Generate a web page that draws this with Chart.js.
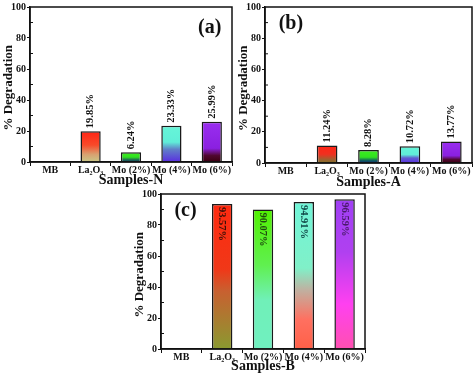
<!DOCTYPE html>
<html>
<head>
<meta charset="utf-8">
<script src="https://cdn.jsdelivr.net/npm/chart.js@4/dist/chart.umd.min.js"></script>
<style>
  body { margin: 0; background: #fff; }
  #wrap { position: relative; width: 474px; height: 375px; overflow: hidden; }
  canvas { position: absolute; }
</style>
</head>
<body>
<div id="wrap">
  <canvas id="chartN" width="236" height="189" style="left:0;top:0"></canvas>
  <canvas id="chartA" width="239" height="191" style="left:235px;top:0"></canvas>
  <canvas id="chartB" width="240" height="188" style="left:131px;top:187px"></canvas>
</div>
<script>
var samples = ['MB', 'La\u2082O\u2083', 'Mo (2%)', 'Mo (4%)', 'Mo (6%)'];
var samplesN = [0, 19.85, 6.24, 23.33, 25.99];
var samplesA = [0, 11.24, 8.28, 10.72, 13.77];
var samplesB = [0, 93.57, 90.07, 94.91, 96.59];
var yTicks = [0, 20, 40, 60, 80, 100];

var serif = "'Liberation Serif', 'Times New Roman', serif";

// gradient stops for each bar, top -> bottom
var gradN = [
  [[0, '#ff2a1a']],
  [[0, '#ff2414'], [0.45, '#f84a2a'], [0.75, '#d8a070'], [1, '#c8c888']],
  [[0, '#3cf01e'], [0.5, '#30e020'], [0.75, '#207050'], [1, '#103868']],
  [[0, '#66f5d8'], [0.45, '#60eed8'], [0.65, '#6080c8'], [1, '#5a2ee0']],
  [[0, '#9a2ef0'], [0.66, '#8a20e0'], [0.84, '#500830'], [1, '#3a0010']]
];
var gradA = [
  [[0, '#ff2a1a']],
  [[0, '#ff2414'], [0.5, '#f03020'], [0.8, '#a06030'], [1, '#807028']],
  [[0, '#3cf01e'], [0.55, '#30e020'], [0.8, '#106060'], [1, '#102870']],
  [[0, '#66f5d8'], [0.5, '#60eed8'], [0.7, '#6060d0'], [1, '#5a2ee0']],
  [[0, '#9a2ef0'], [0.66, '#8a20e0'], [0.84, '#500830'], [1, '#3a0010']]
];
var gradB = [
  [[0, '#ff2a10']],
  [[0, '#ff2a10'], [0.45, '#f03818'], [0.6, '#c86030'], [1, '#8a9a30']],
  [[0, '#50f000'], [0.4, '#60f050'], [0.65, '#70f0b8'], [1, '#70f0c0']],
  [[0, '#70f5d8'], [0.45, '#80f0c8'], [0.6, '#c0b0a0'], [0.8, '#ff7060'], [1, '#ff6048']],
  [[0, '#a040f5'], [0.35, '#b040f0'], [0.7, '#ff40f0'], [1, '#ff50b0']]
];

function gradientFill(stops) {
  return function (c) {
    var chart = c.chart;
    if (!chart.chartArea) return stops[c.dataIndex][0][1];
    var y = chart.scales.y;
    var top = y.getPixelForValue(c.raw || 0);
    var bot = y.getPixelForValue(0);
    if (bot - top < 1) return stops[c.dataIndex][0][1];
    var g = chart.ctx.createLinearGradient(0, top, 0, bot);
    stops[c.dataIndex].forEach(function (s) { g.addColorStop(s[0], s[1]); });
    return g;
  };
}

// box frame, inner minor ticks, panel tag and value labels
var decor = {
  id: 'decor',
  afterDatasetsDraw: function (chart, args, opts) {
    var ctx = chart.ctx, a = chart.chartArea, y = chart.scales.y;
    ctx.save();
    ctx.strokeStyle = '#111';
    ctx.lineWidth = 1.5;
    ctx.strokeRect(a.left, a.top, a.right - a.left, a.bottom - a.top);
    ctx.lineWidth = 1;
    [10, 30, 50, 70, 90].forEach(function (v) {
      var p = y.getPixelForValue(v);
      ctx.beginPath();
      ctx.moveTo(a.left, p);
      ctx.lineTo(a.left + 3, p);
      ctx.stroke();
    });

    ctx.fillStyle = '#111';
    ctx.font = 'bold 20px ' + serif;
    ctx.textAlign = 'center';
    ctx.textBaseline = 'middle';
    ctx.fillText(opts.tag, a.left + opts.tagX * (a.right - a.left), a.top + opts.tagY * (a.bottom - a.top));

    ctx.font = 'bold 10.5px ' + serif;
    var meta = chart.getDatasetMeta(0);
    meta.data.forEach(function (bar, i) {
      var v = chart.data.datasets[0].data[i];
      if (!v) return;
      ctx.save();
      ctx.translate(bar.x, bar.y);
      ctx.textAlign = 'left';
      if (opts.inside) {
        ctx.rotate(Math.PI / 2);
        ctx.fillStyle = opts.labelColors[i];
      } else {
        ctx.rotate(-Math.PI / 2);
        ctx.fillStyle = '#111';
      }
      ctx.fillText(v.toFixed(2) + '%', 3, 0);
      ctx.restore();
    });
    ctx.restore();
  }
};

function makePanel(id, values, grads, xTitle, decorOpts, padRight, xHeight) {
  return new Chart(document.getElementById(id), {
    type: 'bar',
    data: {
      labels: samples,
      datasets: [{
        data: values,
        backgroundColor: gradientFill(grads),
        borderColor: '#1a1a1a',
        borderWidth: function (c) { return c.raw ? 1.5 : 0; },
        barPercentage: 0.5,
        categoryPercentage: 1
      }]
    },
    options: {
      responsive: false,
      animation: false,
      layout: { padding: { top: 6, right: padRight, left: 0, bottom: 0 } },
      plugins: { legend: { display: false }, tooltip: { enabled: false }, decor: decorOpts },
      scales: {
        x: {
          afterFit: function (s) { s.height = xHeight; },
          grid: { drawOnChartArea: false, tickLength: 4, color: '#111', tickColor: '#111' },
          border: { color: '#111', width: 1.5 },
          ticks: { color: '#111', padding: -2, maxRotation: 0, autoSkip: false, font: { family: serif, weight: 'bold', size: 10 } },
          title: { display: true, text: xTitle, color: '#111', padding: 0, font: { family: serif, weight: 'bold', size: 14 } }
        },
        y: {
          min: 0,
          max: 100,
          afterFit: function (s) { s.width = 30; },
          afterBuildTicks: function (s) { s.ticks = yTicks.map(function (v) { return { value: v }; }); },
          grid: { drawOnChartArea: false, tickLength: 3, color: '#111', tickColor: '#111' },
          border: { color: '#111', width: 1.5 },
          ticks: { color: '#111', padding: 1, font: { family: serif, weight: 'bold', size: 10 } },
          title: { display: true, text: '% Degradation  ', color: '#111', padding: { top: 1, bottom: 0 }, font: { family: serif, weight: 'bold', size: 13 } }
        }
      }
    },
    plugins: [decor]
  });
}

makePanel('chartN', samplesN, gradN, 'Samples-N',
  { tag: '(a)', tagX: 0.89, tagY: 0.135, inside: false }, 4, 27);
makePanel('chartA', samplesA, gradA, 'Samples-A',
  { tag: '(b)', tagX: 0.125, tagY: 0.11, inside: false }, 2, 28);
makePanel('chartB', samplesB, gradB, 'Samples-B',
  { tag: '(c)', tagX: 0.12, tagY: 0.11, inside: true,
    labelColors: ['#111', '#3a1008', '#1f4a10', '#124848', '#4a1a6a'] }, 6, 26);
</script>
</body>
</html>
